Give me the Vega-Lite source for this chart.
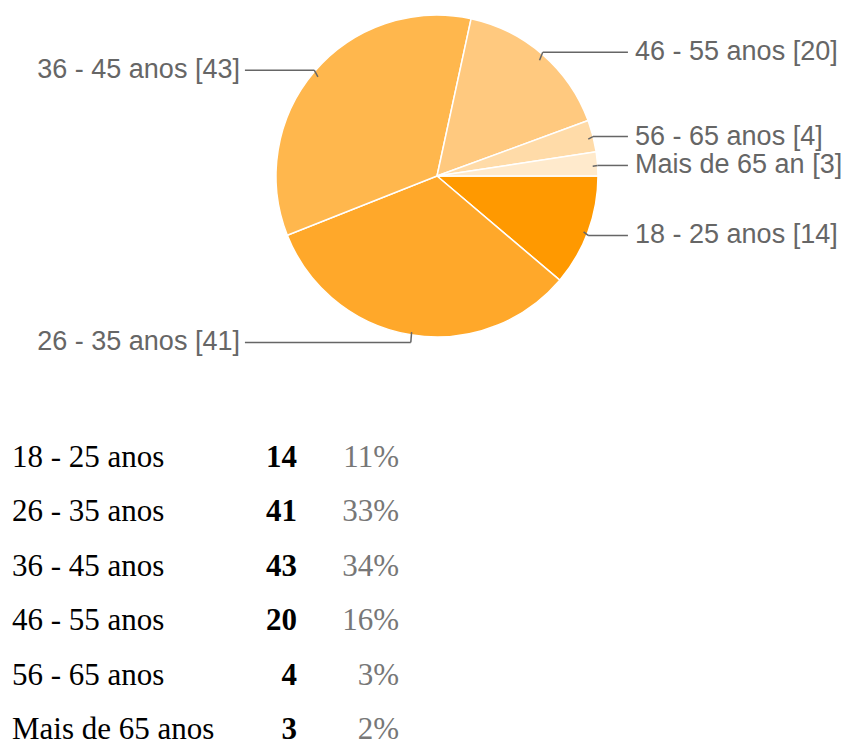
{
  "$schema": "https://vega.github.io/schema/vega-lite/v6.json",
  "padding": 0,
  "background": "white",
  "config": {"view": {"stroke": null}},
  "data": {
    "values": [
      {"category": "18 - 25 anos", "short": "18 - 25 anos", "count": 14},
      {"category": "26 - 35 anos", "short": "26 - 35 anos", "count": 41},
      {"category": "36 - 45 anos", "short": "36 - 45 anos", "count": 43},
      {"category": "46 - 55 anos", "short": "46 - 55 anos", "count": 20},
      {"category": "56 - 65 anos", "short": "56 - 65 anos", "count": 4},
      {"category": "Mais de 65 anos", "short": "Mais de 65 an", "count": 3}
    ]
  },
  "transform": [
    {"window": [{"op": "sum", "field": "count", "as": "cum"}], "sort": [{"field": "category", "order": "ascending"}], "frame": [null, 0]},
    {"joinaggregate": [{"op": "sum", "field": "count", "as": "total"}]},
    {"calculate": "datum.count / datum.total", "as": "pct"},
    {"calculate": "2 * PI * (datum.cum - datum.count / 2) / datum.total", "as": "mid"},
    {"calculate": "0.97 * cos(datum.mid)", "as": "x0"},
    {"calculate": "0.97 * sin(datum.mid)", "as": "y0"},
    {"calculate": "cos(datum.mid)", "as": "xb"},
    {"calculate": "1.035 * sin(datum.mid)", "as": "yb"},
    {"calculate": "datum.xb > 0 ? 1.186 : -1.193", "as": "xe"},
    {"calculate": "datum.xb > 0 ? 1.23 : -1.224", "as": "xt"},
    {"calculate": "datum.short + ' [' + datum.count + ']'", "as": "plabel"}
  ],
  "vconcat": [
    {
      "width": 846,
      "height": 400,
      "layer": [
        {
          "mark": {"type": "arc", "radius": 161, "stroke": "white", "strokeWidth": 1.5, "x": 437, "y": 176},
          "encoding": {
            "theta": {"field": "count", "type": "quantitative", "stack": true, "scale": {"range": [1.5707963, 7.8539816]}},
            "color": {
              "field": "category", "type": "nominal", "legend": null,
              "scale": {"domain": ["18 - 25 anos", "26 - 35 anos", "36 - 45 anos", "46 - 55 anos", "56 - 65 anos", "Mais de 65 anos"],
                        "range": ["#ff9900", "#ffa82a", "#ffb74d", "#ffc97f", "#ffdba8", "#ffeacc"]}
            }
          }
        },
        {
          "mark": {"type": "rule", "color": "#666666", "strokeWidth": 1.5},
          "encoding": {
            "x": {"field": "x0", "type": "quantitative", "scale": {"domain": [-2.7143, 2.5404], "zero": false, "nice": false}, "axis": null},
            "y": {"field": "y0", "type": "quantitative", "scale": {"domain": [-1.1056, 1.3789], "zero": false, "nice": false, "reverse": true}, "axis": null},
            "x2": {"field": "xb"},
            "y2": {"field": "yb"}
          }
        },
        {
          "mark": {"type": "rule", "color": "#666666", "strokeWidth": 1.5},
          "encoding": {
            "x": {"field": "xb", "type": "quantitative"},
            "y": {"field": "yb", "type": "quantitative"},
            "x2": {"field": "xe"}
          }
        },
        {
          "transform": [{"filter": "datum.xb > 0"}],
          "mark": {"type": "text", "align": "left", "baseline": "middle", "font": "Liberation Sans", "fontSize": 27, "color": "#666666"},
          "encoding": {
            "x": {"field": "xt", "type": "quantitative"},
            "y": {"field": "yb", "type": "quantitative"},
            "text": {"field": "plabel"}
          }
        },
        {
          "transform": [{"filter": "datum.xb <= 0"}],
          "mark": {"type": "text", "align": "right", "baseline": "middle", "font": "Liberation Sans", "fontSize": 27, "color": "#666666"},
          "encoding": {
            "x": {"field": "xt", "type": "quantitative"},
            "y": {"field": "yb", "type": "quantitative"},
            "text": {"field": "plabel"}
          }
        }
      ]
    },
    {
      "width": 846,
      "height": 294,
      "encoding": {
        "y": {"field": "category", "type": "nominal", "sort": "ascending", "scale": {"type": "point", "padding": 0.2}, "axis": null}
      },
      "layer": [
        {
          "mark": {"type": "text", "x": 12, "align": "left", "baseline": "middle", "font": "Liberation Serif", "fontSize": 31, "color": "#000000"},
          "encoding": {"text": {"field": "category"}}
        },
        {
          "mark": {"type": "text", "x": 297, "align": "right", "baseline": "middle", "font": "Liberation Serif", "fontSize": 31, "fontWeight": "bold", "color": "#000000"},
          "encoding": {"text": {"field": "count", "type": "quantitative"}}
        },
        {
          "mark": {"type": "text", "x": 399, "align": "right", "baseline": "middle", "font": "Liberation Serif", "fontSize": 31, "color": "#777777"},
          "encoding": {"text": {"field": "pct", "type": "quantitative", "format": ".0%"}}
        }
      ]
    }
  ],
  "spacing": 41
}
